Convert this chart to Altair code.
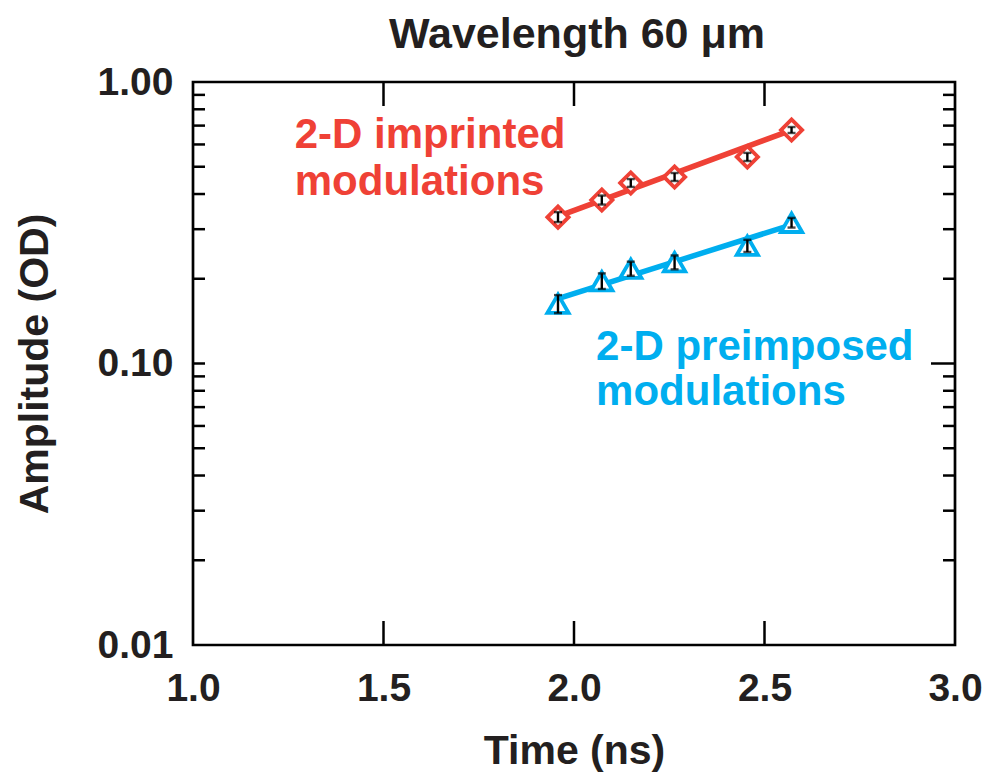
import altair as alt
import pandas as pd

# ---- data ----
time = [1.958, 2.073, 2.149, 2.264, 2.455, 2.571]
imprinted = [0.331, 0.381, 0.438, 0.460, 0.542, 0.675]
imprinted_lo = [0.318, 0.367, 0.424, 0.445, 0.524, 0.659]
imprinted_hi = [0.345, 0.395, 0.452, 0.475, 0.560, 0.692]
preimposed = [0.163, 0.196, 0.217, 0.229, 0.262, 0.316]
preimposed_lo = [0.151, 0.184, 0.205, 0.216, 0.249, 0.304]
preimposed_hi = [0.175, 0.209, 0.230, 0.242, 0.275, 0.329]

fit_time = [1.958, 2.571]
fit_imprinted = [0.333, 0.675]
fit_preimposed = [0.170, 0.311]

x_ticks = [1.0, 1.5, 2.0, 2.5, 3.0]
x_inner_ticks = [1.5, 2.0, 2.5]
y_labels = [0.01, 0.1, 1.0]
y_minor = [0.02, 0.03, 0.04, 0.05, 0.06, 0.07, 0.08, 0.09,
           0.2, 0.3, 0.4, 0.5, 0.6, 0.7, 0.8, 0.9]
y_major_inner = [0.1]

red_lines = ["2-D imprinted", "modulations"]
red_t = [1.267, 1.267]
red_amp = [0.583, 0.397]
blue_lines = ["2-D preimposed", "modulations"]
blue_t = [2.058, 2.058]
blue_amp = [0.1029, 0.0712]

title_text = ["Wavelength 60 μm"]

RED = "#EF4136"
BLUE = "#00AEEF"
INK = "#231F20"
FONT = "Liberation Sans"
W, H = 762, 563

pts = pd.DataFrame({
    "t": time * 2,
    "amp": imprinted + preimposed,
    "lo": imprinted_lo + preimposed_lo,
    "hi": imprinted_hi + preimposed_hi,
    "series": ["imprinted"] * 6 + ["preimposed"] * 6,
})
fit = pd.DataFrame({
    "t": fit_time * 2,
    "amp": fit_imprinted + fit_preimposed,
    "series": ["imprinted"] * 2 + ["preimposed"] * 2,
})

xscale = alt.Scale(domain=[1, 3], nice=False, zero=False)
yscale = alt.Scale(type="log", domain=[0.01, 1], nice=False)

xaxis = alt.Axis(values=x_ticks, format=".1f", title="Time (ns)", ticks=False,
                 domain=False, grid=False, labelFontSize=39, labelFont=FONT,
                 labelFontWeight="bold", labelColor=INK, labelPadding=24,
                 labelFlush=False, titleFontSize=41, titleFont=FONT,
                 titleFontWeight="bold", titleColor=INK, titlePadding=23)
yaxis = alt.Axis(values=y_labels, format=".2f", title="Amplitude (OD)", ticks=False,
                 domain=False, grid=False, labelFontSize=39, labelFont=FONT,
                 labelFontWeight="bold", labelColor=INK, labelPadding=20,
                 labelFlush=False, titleFontSize=41, titleFont=FONT,
                 titleFontWeight="bold", titleColor=INK, titlePadding=41)

X = lambda f: alt.X(f, type="quantitative", scale=xscale, axis=xaxis)
Y = lambda f: alt.Y(f, type="quantitative", scale=yscale, axis=yaxis)

color = alt.Color("series:N", scale=alt.Scale(domain=["imprinted", "preimposed"],
                                              range=[RED, BLUE]), legend=None)

lines = alt.Chart(fit).mark_line(strokeWidth=5.5).encode(
    x=X("t"), y=Y("amp"), color=color, detail="series:N")

diamonds = alt.Chart(pts).transform_filter(alt.datum.series == "imprinted").mark_point(
    shape="diamond", filled=True, fill="white", stroke=RED, strokeWidth=3.8,
    size=450, opacity=1).encode(x=X("t"), y=Y("amp"))
triangles = alt.Chart(pts).transform_filter(alt.datum.series == "preimposed").mark_point(
    shape="triangle-up", filled=True, fill="white", stroke=BLUE, strokeWidth=3.8,
    size=450, opacity=1).encode(x=X("t"), y=Y("amp"))

err = alt.Chart(pts).mark_rule(color="black", strokeWidth=2.4).encode(
    x=X("t"), y=Y("lo"), y2="hi")
cap_lo = alt.Chart(pts).mark_tick(orient="horizontal", size=8, thickness=2.4,
                                  color="black").encode(x=X("t"), y=Y("lo"))
cap_hi = alt.Chart(pts).mark_tick(orient="horizontal", size=8, thickness=2.4,
                                  color="black").encode(x=X("t"), y=Y("hi"))

# inner ticks (drawn through the scales)
ydf_minor = pd.DataFrame({"v": y_minor + y_major_inner})
ydf_major = pd.DataFrame({"v": y_major_inner})
ydf_rminor = pd.DataFrame({"v": y_minor})
xdf = pd.DataFrame({"v": x_inner_ticks})
tk = dict(color="black", strokeWidth=2.5)
left_ticks = alt.Chart(ydf_minor).mark_rule(**tk).encode(
    x=alt.value(0), x2=alt.value(12), y=Y("v"))
right_minor = alt.Chart(ydf_rminor).mark_rule(**tk).encode(
    x=alt.value(W - 12), x2=alt.value(W), y=Y("v"))
right_major = alt.Chart(ydf_major).mark_rule(**tk).encode(
    x=alt.value(W - 24), x2=alt.value(W), y=Y("v"))
bottom_ticks = alt.Chart(xdf).mark_rule(**tk).encode(
    x=X("v"), y=alt.value(H - 24), y2=alt.value(H))
top_ticks = alt.Chart(xdf).mark_rule(**tk).encode(
    x=X("v"), y=alt.value(0), y2=alt.value(24))

red_df = pd.DataFrame({"t": red_t, "amp": red_amp, "txt": red_lines})
blue_df = pd.DataFrame({"t": blue_t, "amp": blue_amp, "txt": blue_lines})
red_text = alt.Chart(red_df).mark_text(
    align="left", baseline="alphabetic", font=FONT, fontSize=42,
    fontWeight="bold", color=RED).encode(x=X("t"), y=Y("amp"), text="txt:N")
blue_text = alt.Chart(blue_df).mark_text(
    align="left", baseline="alphabetic", font=FONT, fontSize=42,
    fontWeight="bold", color=BLUE).encode(x=X("t"), y=Y("amp"), text="txt:N")

title = alt.Chart(pd.DataFrame({"txt": title_text})).mark_text(
    align="center", baseline="alphabetic", font=FONT, fontSize=43,
    fontWeight="bold", color=INK).encode(
    x=alt.value(W / 2 + 3), y=alt.value(-34), text="txt:N")

chart = alt.layer(
    left_ticks, right_minor, right_major, bottom_ticks, top_ticks,
    lines, diamonds, triangles, err, cap_lo, cap_hi, red_text, blue_text, title
).properties(
    width=W, height=H,
    padding={"left": 185, "top": 74, "right": 27, "bottom": 127},
    autosize="none",
).configure(background="white").configure_view(stroke="black", strokeWidth=2.7)

chart.save("out.html", embed_options={"renderer": "svg", "actions": False})
